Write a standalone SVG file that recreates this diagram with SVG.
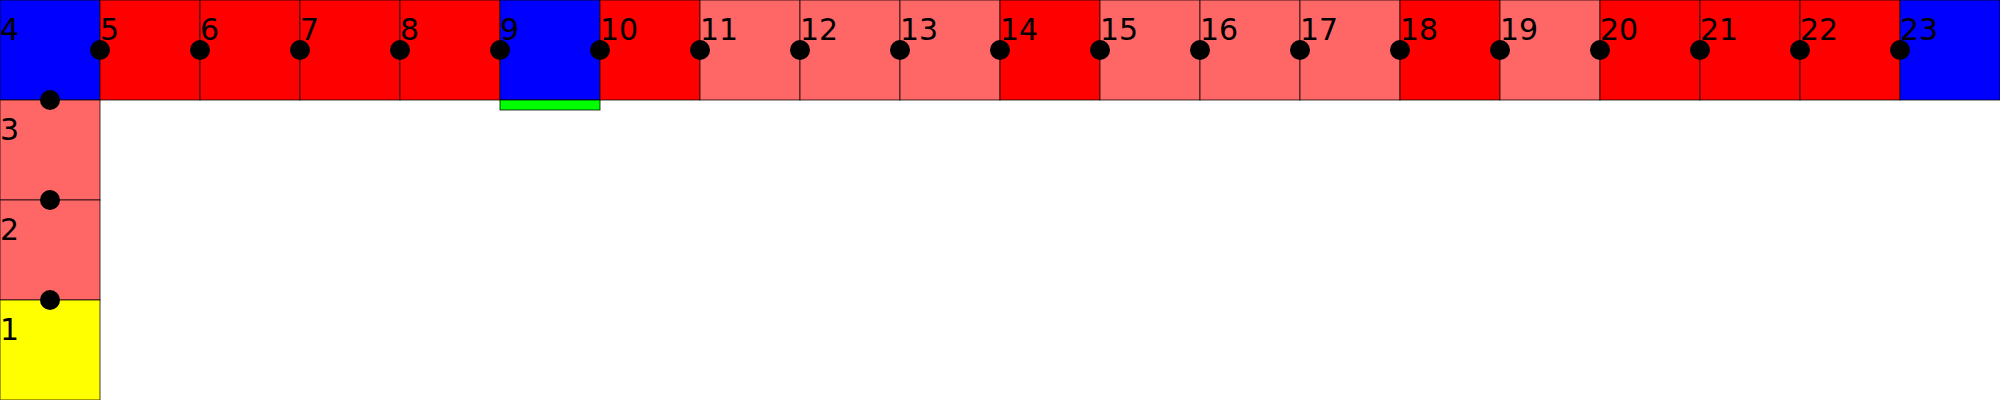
<svg xmlns="http://www.w3.org/2000/svg" width="2000" height="400" viewBox="0 0 2000 400">
<style>
.c{stroke:#000;stroke-opacity:0.75;stroke-width:1}
.r{fill:#ff0000}.l{fill:#ff6666}.b{fill:#0000ff}.y{fill:#ffff00}.g{fill:#00ff00}
text{font-family:"DejaVu Sans",sans-serif;font-size:30px;fill:#000}
.d{fill:#000}
</style>
<rect width="2000" height="400" fill="#fff"/>
<g id="n4"><rect class="c b" x="0" y="0" width="100" height="100"/><text x="0" y="40">4</text></g>
<g id="n5"><rect class="c r" x="100" y="0" width="100" height="100"/><text x="100" y="40">5</text></g>
<g id="n6"><rect class="c r" x="200" y="0" width="100" height="100"/><text x="200" y="40">6</text></g>
<g id="n7"><rect class="c r" x="300" y="0" width="100" height="100"/><text x="300" y="40">7</text></g>
<g id="n8"><rect class="c r" x="400" y="0" width="100" height="100"/><text x="400" y="40">8</text></g>
<g id="n9"><rect class="c b" x="500" y="0" width="100" height="100"/><rect class="c g" x="500" y="100" width="100" height="10"/><text x="500" y="40">9</text></g>
<g id="n10"><rect class="c r" x="600" y="0" width="100" height="100"/><text x="600" y="40">10</text></g>
<g id="n11"><rect class="c l" x="700" y="0" width="100" height="100"/><text x="700" y="40">11</text></g>
<g id="n12"><rect class="c l" x="800" y="0" width="100" height="100"/><text x="800" y="40">12</text></g>
<g id="n13"><rect class="c l" x="900" y="0" width="100" height="100"/><text x="900" y="40">13</text></g>
<g id="n14"><rect class="c r" x="1000" y="0" width="100" height="100"/><text x="1000" y="40">14</text></g>
<g id="n15"><rect class="c l" x="1100" y="0" width="100" height="100"/><text x="1100" y="40">15</text></g>
<g id="n16"><rect class="c l" x="1200" y="0" width="100" height="100"/><text x="1200" y="40">16</text></g>
<g id="n17"><rect class="c l" x="1300" y="0" width="100" height="100"/><text x="1300" y="40">17</text></g>
<g id="n18"><rect class="c r" x="1400" y="0" width="100" height="100"/><text x="1400" y="40">18</text></g>
<g id="n19"><rect class="c l" x="1500" y="0" width="100" height="100"/><text x="1500" y="40">19</text></g>
<g id="n20"><rect class="c r" x="1600" y="0" width="100" height="100"/><text x="1600" y="40">20</text></g>
<g id="n21"><rect class="c r" x="1700" y="0" width="100" height="100"/><text x="1700" y="40">21</text></g>
<g id="n22"><rect class="c r" x="1800" y="0" width="100" height="100"/><text x="1800" y="40">22</text></g>
<g id="n23"><rect class="c b" x="1900" y="0" width="100" height="100"/><text x="1900" y="40">23</text></g>
<g id="n3"><rect class="c l" x="0" y="100" width="100" height="100"/><text x="0" y="140">3</text></g>
<g id="n2"><rect class="c l" x="0" y="200" width="100" height="100"/><text x="0" y="240">2</text></g>
<g id="n1"><rect class="c y" x="0" y="300" width="100" height="100"/><text x="0" y="340">1</text></g>
<g id="connectors">
<circle class="d" cx="100" cy="50" r="10"/><circle class="d" cx="200" cy="50" r="10"/><circle class="d" cx="300" cy="50" r="10"/><circle class="d" cx="400" cy="50" r="10"/><circle class="d" cx="500" cy="50" r="10"/><circle class="d" cx="600" cy="50" r="10"/><circle class="d" cx="700" cy="50" r="10"/><circle class="d" cx="800" cy="50" r="10"/><circle class="d" cx="900" cy="50" r="10"/><circle class="d" cx="1000" cy="50" r="10"/><circle class="d" cx="1100" cy="50" r="10"/><circle class="d" cx="1200" cy="50" r="10"/><circle class="d" cx="1300" cy="50" r="10"/><circle class="d" cx="1400" cy="50" r="10"/><circle class="d" cx="1500" cy="50" r="10"/><circle class="d" cx="1600" cy="50" r="10"/><circle class="d" cx="1700" cy="50" r="10"/><circle class="d" cx="1800" cy="50" r="10"/><circle class="d" cx="1900" cy="50" r="10"/>
<circle class="d" cx="50" cy="100" r="10"/><circle class="d" cx="50" cy="200" r="10"/><circle class="d" cx="50" cy="300" r="10"/>
</g>
</svg>
